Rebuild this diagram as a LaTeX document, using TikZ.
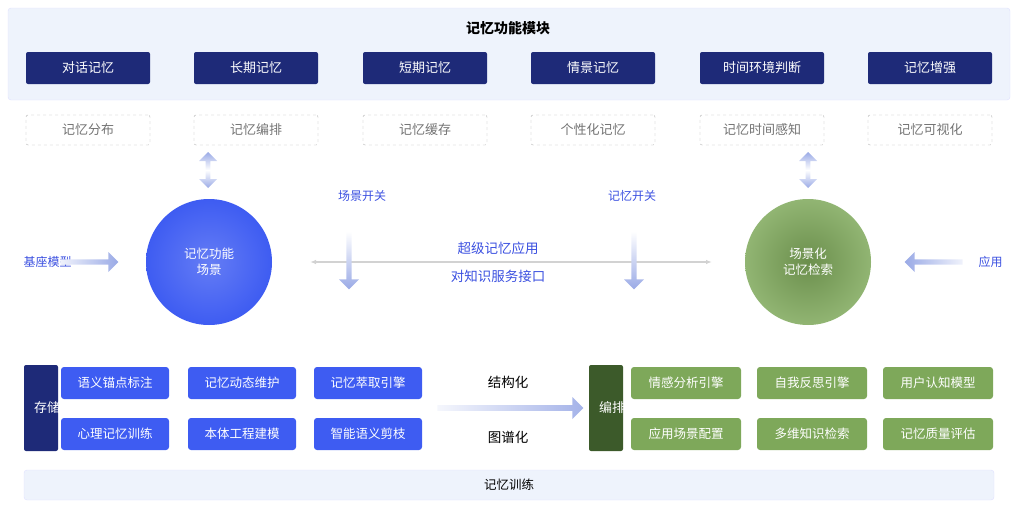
\documentclass[tikz,border=0pt]{standalone}
\usepackage{fontspec}
\newfontfamily\cjk{Noto Sans CJK SC}
\usetikzlibrary{positioning, calc, arrows.meta, shapes.arrows}
\definecolor{navy}{HTML}{1E2A78}
\definecolor{mblue}{HTML}{3E5CF2}
\definecolor{mgreen}{HTML}{7EA85A}
\definecolor{dgreen}{HTML}{3C5A2A}
\definecolor{pale}{HTML}{EEF3FC}
\definecolor{txtblue}{HTML}{3B50E0}
\definecolor{arrblue}{HTML}{9AAAE6}

\begin{document}
\begin{tikzpicture}[
      x=1pt, y=-1pt,
      panel/.style={draw=blue!12, fill=pale, rounded corners=3pt},
      modnode/.style={rectangle, rounded corners=2pt, fill=navy, text=white, minimum width=124pt, minimum height=32pt, font=\cjk\fontsize{13}{15}\selectfont},
      featnode/.style={rectangle, rounded corners=2pt, draw=gray!60, dashed, text=gray!90!black, minimum width=124pt, minimum height=30pt, font=\cjk\fontsize{13}{15}\selectfont},
      bluenode/.style={rectangle, rounded corners=3pt, fill=mblue, text=white, minimum width=108pt, minimum height=32pt, font=\cjk\fontsize{12.5}{15}\selectfont},
      greennode/.style={rectangle, rounded corners=3pt, fill=mgreen, text=white, minimum width=110pt, minimum height=32pt, font=\cjk\fontsize{12.5}{15}\selectfont},
      layernode/.style={rectangle, rounded corners=2pt, text=white, minimum width=34pt, minimum height=86pt, text width=14pt, align=center, font=\cjk\fontsize{13}{17}\selectfont},
      label/.style={text=txtblue, font=\cjk\fontsize{12}{15}\selectfont},
      hub/.style={circle, minimum size=126pt, text=white, align=center, font=\cjk\fontsize{12.5}{16}\selectfont},
      harrow/.style={single arrow, single arrow head extend=6pt, minimum height=58pt, minimum width=20pt, inner sep=2pt},
      varrow/.style={double arrow, double arrow head extend=5pt, minimum height=36pt, minimum width=18pt, inner sep=1.5pt, shape border rotate=90, top color=arrblue, bottom color=arrblue, middle color=white},
      line/.style={gray!35, line width=1.2pt, {Latex[length=6pt]}-{Latex[length=6pt]}}
    ]
      \useasboundingbox (0,0) rectangle (1017,506);

      % Top panel with modules
      \draw[panel] (8,8) rectangle (1010,100);
      \node[font=\cjk\bfseries\fontsize{14}{16}\selectfont] (title) at (508,28) {记忆功能模块};
      \node[modnode] (m1) at (88,68) {对话记忆};
      \node[modnode] (m2) at (256,68) {长期记忆};
      \node[modnode] (m3) at (425,68) {短期记忆};
      \node[modnode] (m4) at (593,68) {情景记忆};
      \node[modnode] (m5) at (762,68) {时间环境判断};
      \node[modnode] (m6) at (930,68) {记忆增强};

      % Feature row
      \node[featnode] (f1) at (88,130) {记忆分布};
      \node[featnode] (f2) at (256,130) {记忆编排};
      \node[featnode] (f3) at (425,130) {记忆缓存};
      \node[featnode] (f4) at (593,130) {个性化记忆};
      \node[featnode] (f5) at (762,130) {记忆时间感知};
      \node[featnode] (f6) at (930,130) {记忆可视化};

      % Hubs
      \node[hub, inner color=mblue!80!white, outer color=mblue] (scene) at (209,262) {记忆功能\\场景};
      \node[hub, inner color=mgreen!85!black, outer color=mgreen!85!white] (retr) at (808,262) {场景化\\记忆检索};
      \node[varrow] (u1) at (208,170) {};
      \node[varrow] (u2) at (808,170) {};

      % Inputs
      \node[label, text width=13pt, align=center, font=\cjk\fontsize{12}{19}\selectfont] (base) at (30,262) {基座模型};
      \node[harrow, left color=arrblue!15, right color=arrblue] (inL) at (88,262) {};
      \node[label, text width=13pt, align=center, font=\cjk\fontsize{12}{19}\selectfont] (app) at (985,262) {应用};
      \node[harrow, shape border rotate=180, left color=arrblue, right color=arrblue!15] (inR) at (935,262) {};

      % Service interface
      \coordinate (lnA) at (310,262);
      \coordinate (lnB) at (712,262);
      \draw[line] (lnA) -- (lnB);
      \node[label, font=\cjk\fontsize{13.5}{16}\selectfont] (svc1) at (498,248) {超级记忆应用};
      \node[label, font=\cjk\fontsize{13.5}{16}\selectfont] (svc2) at (498,276) {对知识服务接口};
      \node[label] (sw1) at (362,196) {场景开关};
      \node[label] (sw2) at (632,196) {记忆开关};
      \node[harrow, shape border rotate=270, top color=white, bottom color=arrblue] (d1) at (349,259) {};
      \node[harrow, shape border rotate=270, top color=white, bottom color=arrblue] (d2) at (634,259) {};

      % Storage layer
      \node[layernode, fill=navy] (store) at (41,408) {存储层};
      \node[bluenode] (s1) at (115,383) {语义锚点标注};
      \node[bluenode] (s2) at (242,383) {记忆动态维护};
      \node[bluenode] (s3) at (368,383) {记忆萃取引擎};
      \node[bluenode] (s4) at (115,434) {心理记忆训练};
      \node[bluenode] (s5) at (242,434) {本体工程建模};
      \node[bluenode] (s6) at (368,434) {智能语义剪枝};

      % Middle transform
      \node[harrow, minimum height=146pt, minimum width=22pt, left color=arrblue!10, right color=arrblue!90] (tr) at (509,408) {};
      \node[font=\cjk\fontsize{13.5}{16}\selectfont] (t1) at (508,382) {结构化};
      \node[font=\cjk\fontsize{13.5}{16}\selectfont] (t2) at (508,437) {图谱化};

      % Orchestration layer
      \node[layernode, fill=dgreen] (orch) at (606,408) {编排层};
      \node[greennode] (g1) at (686,383) {情感分析引擎};
      \node[greennode] (g2) at (812,383) {自我反思引擎};
      \node[greennode] (g3) at (938,383) {用户认知模型};
      \node[greennode] (g4) at (686,434) {应用场景配置};
      \node[greennode] (g5) at (812,434) {多维知识检索};
      \node[greennode] (g6) at (938,434) {记忆质量评估};

      % Bottom bar
      \draw[panel] (24,470) rectangle (994,500);
      \node[font=\cjk\fontsize{12.5}{15}\selectfont] (train) at (509,485) {记忆训练};
    \end{tikzpicture}
\end{document}
